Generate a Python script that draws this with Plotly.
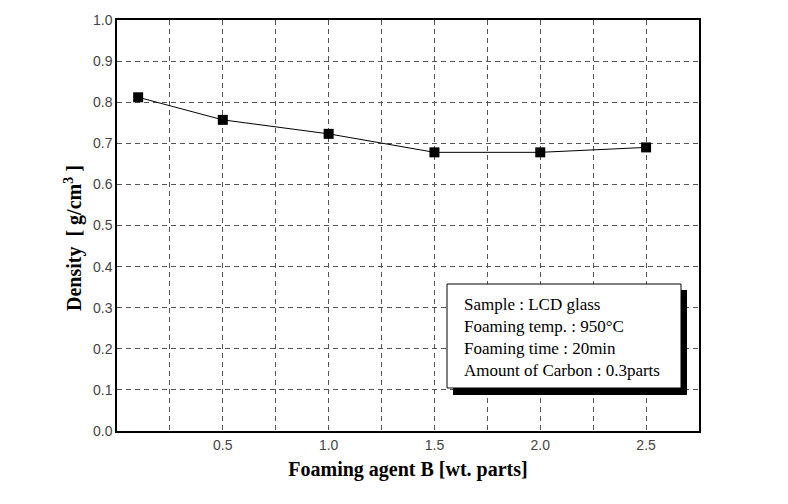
import plotly.graph_objects as go

foaming_agent_b = [0.1, 0.5, 1.0, 1.5, 2.0, 2.5]
density = [0.812, 0.757, 0.723, 0.678, 0.678, 0.690]

x_tickvals = [0, 0.25, 0.5, 0.75, 1.0, 1.25, 1.5, 1.75, 2.0, 2.25, 2.5, 2.75]
x_ticktext = ["", "", "0.5", "", "1.0", "", "1.5", "", "2.0", "", "2.5", ""]
y_tickvals = [0, 0.1, 0.2, 0.3, 0.4, 0.5, 0.6, 0.7, 0.8, 0.9, 1.0]
y_ticktext = ["0.0", "0.1", "0.2", "0.3", "0.4", "0.5", "0.6", "0.7", "0.8", "0.9", "1.0"]

info_lines = ["Sample : LCD glass", "Foaming temp. : 950\u00b0C",
              "Foaming time : 20min", "Amount of Carbon : 0.3parts"]

fig = go.Figure()
fig.add_trace(go.Scatter(
    x=foaming_agent_b, y=density, mode="lines+markers",
    line=dict(color="black", width=1),
    marker=dict(symbol="square", size=10, color="black"),
    showlegend=False, cliponaxis=False))

OFF = 8  # page body margin
L, R, T, B = 109, 97, 12, 81
W, H = 788, 504
pw, ph = W - L - R, H - T - B

def px(x):
    return (x - OFF - L) / pw

def py(y):
    return (H - B - (y - OFF)) / ph

# shadow and box
fig.add_shape(type="rect", xref="paper", yref="paper",
              x0=px(453), x1=px(687), y0=py(395), y1=py(290),
              fillcolor="black", line=dict(width=0), layer="above")
fig.add_shape(type="rect", xref="paper", yref="paper",
              x0=px(447), x1=px(681), y0=py(388), y1=py(284),
              fillcolor="white", line=dict(color="black", width=1), layer="above")
fig.add_annotation(xref="paper", yref="paper", x=px(462), y=py(337),
                   xanchor="left", yanchor="middle", align="left",
                   showarrow=False,
                   text="<br>".join(info_lines),
                   font=dict(family="Liberation Serif", size=17, color="black"))

# y-axis title
fig.add_annotation(xref="paper", yref="paper", x=px(73), y=py(238),
                   xanchor="center", yanchor="middle", textangle=-90,
                   showarrow=False,
                   text="<b>Density  [ g/cm<sup>3</sup> ]</b>",
                   font=dict(family="Liberation Serif", size=20, color="black"))

grid = dict(showgrid=True, gridcolor="#555555", griddash="5px,4px", gridwidth=1)
fig.update_xaxes(range=[0, 2.75], tickvals=x_tickvals, ticktext=x_ticktext,
                 showline=True, linecolor="black", linewidth=1.5, mirror=True,
                 zeroline=False, ticks="", **grid,
                 tickfont=dict(family="Liberation Sans", size=14, color="#444444"),
                 title=dict(text="<b>Foaming agent B [wt. parts]</b>", standoff=10,
                            font=dict(family="Liberation Serif", size=20, color="black")))
fig.update_yaxes(range=[0, 1.0], tickvals=y_tickvals, ticktext=y_ticktext,
                 showline=True, linecolor="black", linewidth=1.5, mirror=True,
                 zeroline=False, ticks="", **grid,
                 tickfont=dict(family="Liberation Sans", size=14, color="#444444"))
fig.update_layout(width=W, height=H, plot_bgcolor="white", paper_bgcolor="white",
                  margin=dict(l=L, r=R, t=T, b=B, autoexpand=False))
fig.write_html("out.html")
